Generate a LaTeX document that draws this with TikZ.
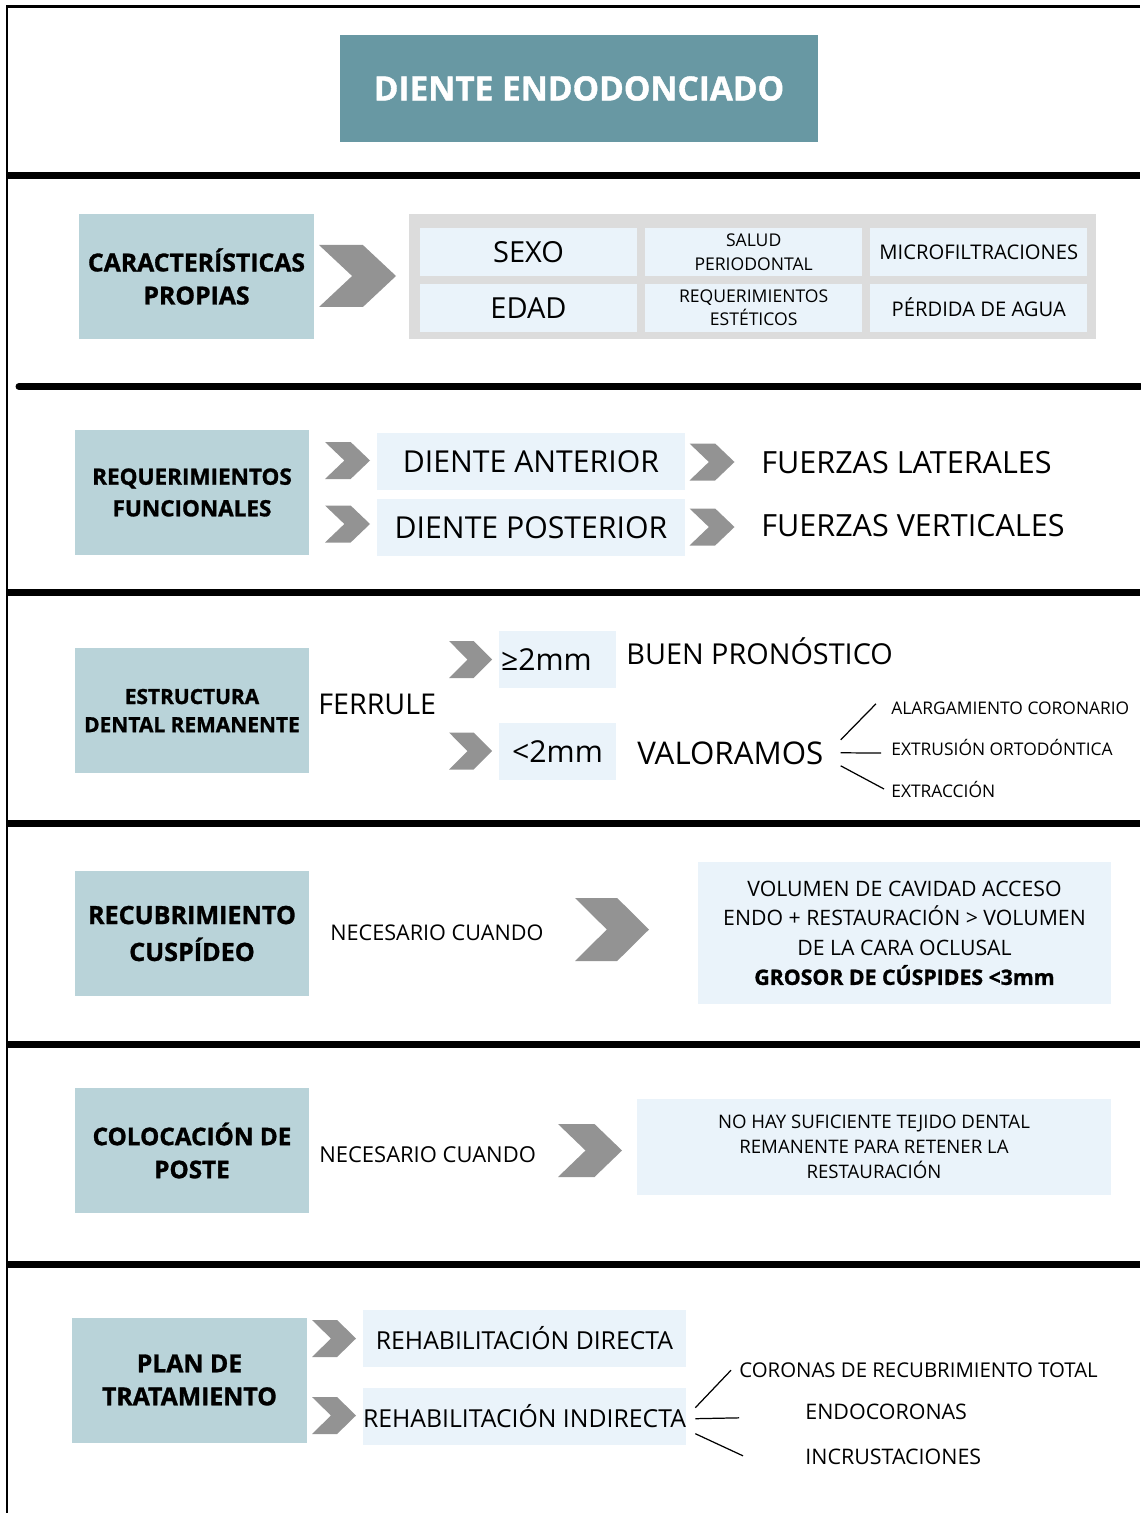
\documentclass[tikz,border=0pt]{standalone}
\usepackage{fontspec}
\setmainfont{Open Sans}[BoldFeatures={FakeBold=1.2}]
\usepackage{xcolor}
\usetikzlibrary{positioning}

\definecolor{tituloazul}{HTML}{6898A3}
\definecolor{cajaazul}{HTML}{B9D3D9}
\definecolor{celdaazul}{HTML}{EAF3FA}
\definecolor{panelgris}{HTML}{DCDCDC}
\definecolor{flechagris}{HTML}{939393}

\begin{document}
\begin{tikzpicture}[
    x=0.02cm, y=-0.02cm,
    seccion/.style={line width=0.14cm},
    caja/.style={
        rectangle,
        fill=cajaazul,
        align=center,
        inner sep=0pt,
        minimum width=4.7cm,
        minimum height=2.5cm
    },
    celda/.style={rectangle, fill=celdaazul, align=center, inner sep=0pt},
    celdita/.style={celda, minimum width=4.34cm, minimum height=0.96cm},
    texto/.style={inner sep=0pt, anchor=base west},
    grande/.style={font=\fontsize{17.2}{20}\selectfont},
    chica/.style={font=\fontsize{9.9}{12}\selectfont},
    rama/.style={line width=0.7pt},
    pics/chevron/.style 2 args={code={
        \fill[flechagris] (-#1/2,-#2/2) -- (0.07*#1,-#2/2) -- (#1/2,0)
            -- (0.07*#1,#2/2) -- (-#1/2,#2/2) -- (-0.07*#1,0) -- cycle;
    }}
]
\useasboundingbox (0,0) rectangle (1140,1513);

% marco y separadores
\draw[line width=0.06cm] (7,1513) -- (7,7) -- (1140,7);
\draw[seccion] (7,175.5) -- (1140,175.5);
\draw[seccion, line cap=round] (19,386.5) -- (1140,386.5);
\draw[seccion] (7,592.5) -- (1140,592.5);
\draw[seccion] (7,823) -- (1140,823);
\draw[seccion] (7,1044.5) -- (1140,1044.5);
\draw[seccion] (7,1264.5) -- (1140,1264.5);

% titulo
\node[fill=tituloazul, minimum width=9.56cm, minimum height=2.14cm, inner sep=0pt,
      text=white, font=\bfseries\fontsize{19}{22}\selectfont] (titulo) at (579,88.5) {DIENTE ENDODONCIADO};

% caracteristicas propias
\node[caja, font=\bfseries\fontsize{14.1}{18.8}\selectfont] (carac) at (196.5,276.5) {CARACTERÍSTICAS\\PROPIAS};
\pic at (357.5,276) {chevron={77}{62}};
\node[fill=panelgris, minimum width=13.74cm, minimum height=2.5cm, inner sep=0pt] (panel) at (752.5,276.5) {};
\node[celdita, font=\fontsize{16.5}{20}\selectfont] (sexo) at (528.5,252) {SEXO};
\node[celdita, font=\fontsize{16.5}{20}\selectfont, below=0.14cm of sexo] (edad) {EDAD};
\node[celdita, font=\fontsize{10}{13.5}\selectfont, right=0.15cm of sexo] (salud) {SALUD\\PERIODONTAL};
\node[celdita, font=\fontsize{10}{13.5}\selectfont, right=0.15cm of edad] (estet) {REQUERIMIENTOS\\ESTÉTICOS};
\node[celdita, font=\fontsize{11.5}{14}\selectfont, right=0.15cm of salud] (micro) {MICROFILTRACIONES};
\node[celdita, font=\fontsize{11.5}{14}\selectfont, right=0.15cm of estet] (agua) {PÉRDIDA DE AGUA};

% requerimientos funcionales
\node[caja, font=\bfseries\fontsize{12.8}{18}\selectfont] (req) at (192,492.5) {REQUERIMIENTOS\\FUNCIONALES};
\pic at (347.5,460.5) {chevron={45}{37}};
\pic at (347.5,524) {chevron={45}{37}};
\node[celda, grande, minimum width=6.16cm, minimum height=1.14cm] (anterior) at (531,461.5) {DIENTE ANTERIOR};
\node[celda, grande, minimum width=6.16cm, minimum height=1.14cm, below=0.16cm of anterior] (posterior) {DIENTE POSTERIOR};
\pic at (712,462) {chevron={45}{37}};
\pic at (712,527) {chevron={45}{37}};
\node[texto, font=\fontsize{17.4}{20}\selectfont] (laterales) at (761,473) {FUERZAS LATERALES};
\node[texto, font=\fontsize{17.4}{20}\selectfont] (verticales) at (761,536) {FUERZAS VERTICALES};

% estructura dental remanente
\node[caja, font=\bfseries\fontsize{11.9}{16}\selectfont] (estructura) at (192,710.5) {ESTRUCTURA\\DENTAL REMANENTE};
\node[texto, font=\fontsize{16.3}{18}\selectfont] (ferrule) at (318,714) {FERRULE};
\pic at (470.5,659.5) {chevron={43}{37}};
\pic at (470.5,751) {chevron={43}{37}};
\node[celda, grande, minimum width=2.34cm, minimum height=1.14cm, text width=2.26cm, align=left] (mayor) at (557.5,659.5) {≥2mm};
\node[celda, grande, minimum width=2.34cm, minimum height=1.14cm] (menor) at (557.5,751.5) {<2mm};
\node[texto, font=\fontsize{16.4}{20}\selectfont] (buen) at (626,664) {BUEN PRONÓSTICO};
\node[texto, font=\fontsize{17.8}{20}\selectfont] (valor) at (637,764) {VALORAMOS};
\node[texto, chica] (alarg) at (891,714) {ALARGAMIENTO CORONARIO};
\node[texto, chica] (extru) at (891,755) {EXTRUSIÓN ORTODÓNTICA};
\node[texto, chica] (extrac) at (891,797) {EXTRACCIÓN};

% ramas de valoramos
\draw[rama] ([shift={(17,-13)}]valor.east) -- ([shift={(-15,-4)}]alarg.west);
\draw[rama] ([shift={(17,0)}]valor.east) -- ([shift={(-10,6)}]extru.west);
\draw[rama] ([shift={(17,13)}]valor.east) -- ([shift={(-7,0)}]extrac.west);

% recubrimiento cuspideo
\node[caja, font=\bfseries\fontsize{14.3}{21}\selectfont] (recub) at (192,933.5) {RECUBRIMIENTO\\CUSPÍDEO};
\node[texto, font=\fontsize{12.3}{15}\selectfont] (necesario1) at (330,940) {NECESARIO CUANDO};
\pic at (612,929.5) {chevron={74}{63}};
\node[celda, minimum width=8.26cm, minimum height=2.84cm, font=\fontsize{12.1}{16.8}\selectfont] (volumen) at (904.5,933)
    {VOLUMEN DE CAVIDAD ACCESO\\ENDO + RESTAURACIÓN > VOLUMEN\\DE LA CARA OCLUSAL\\\textbf{GROSOR DE CÚSPIDES <3mm}};

% colocacion de poste
\node[caja, font=\bfseries\fontsize{13.8}{18.8}\selectfont] (poste) at (192,1150.5) {COLOCACIÓN DE\\POSTE};
\node[texto, font=\fontsize{12.5}{15}\selectfont] (necesario2) at (319,1162) {NECESARIO CUANDO};
\pic at (590,1150.5) {chevron={64}{53}};
\node[celda, minimum width=9.48cm, minimum height=1.92cm, font=\fontsize{10.6}{14.2}\selectfont] (tejido) at (874,1147)
    {NO HAY SUFICIENTE TEJIDO DENTAL\\REMANENTE PARA RETENER LA\\RESTAURACIÓN};

% plan de tratamiento
\node[caja, font=\bfseries\fontsize{14.1}{18.8}\selectfont] (plan) at (189.5,1380) {PLAN DE\\TRATAMIENTO};
\pic at (334,1338.5) {chevron={44}{37}};
\pic at (334,1415.5) {chevron={44}{37}};
\node[celda, minimum width=6.46cm, minimum height=1.14cm, font=\fontsize{14.1}{16}\selectfont] (directa) at (524.5,1338.5) {REHABILITACIÓN DIRECTA};
\node[celda, minimum width=6.46cm, minimum height=1.14cm, font=\fontsize{14.1}{16}\selectfont, below=0.4cm of directa] (indirecta) {REHABILITACIÓN INDIRECTA};
\node[texto, font=\fontsize{11.6}{14}\selectfont] (coronas) at (739,1377.5) {CORONAS DE RECUBRIMIENTO TOTAL};
\node[texto, font=\fontsize{12.2}{14}\selectfont] (endocoronas) at (805,1419.5) {ENDOCORONAS};
\node[texto, font=\fontsize{12.2}{14}\selectfont] (incrust) at (805,1464.5) {INCRUSTACIONES};

% ramas de indirecta
\draw[rama] ([shift={(9,-8.5)}]indirecta.east) -- ([shift={(-8,0)}]coronas.west);
\draw[rama] ([shift={(9,2.5)}]indirecta.east) -- ([shift={(-66,6)}]endocoronas.west);
\draw[rama] ([shift={(9,17.5)}]indirecta.east) -- ([shift={(-62,-1)}]incrust.west);

\end{tikzpicture}
\end{document}
